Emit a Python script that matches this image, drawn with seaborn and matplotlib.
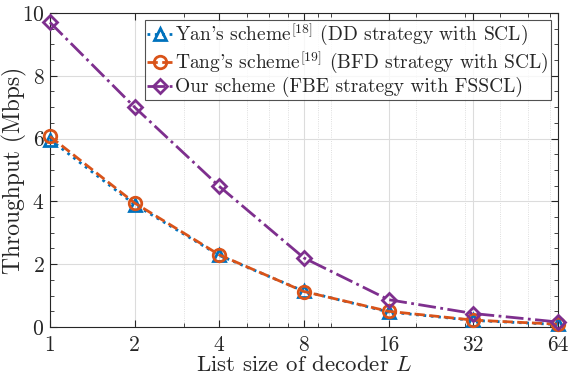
import matplotlib
matplotlib.use("Agg")
import matplotlib.pyplot as plt
import seaborn as sns
import pandas as pd
from matplotlib.ticker import FixedLocator, NullFormatter, MultipleLocator

# List sizes and throughput (Mbps) of the three decoding schemes
list_sizes = [1, 2, 4, 8, 16, 32, 64]
yan_tp = [5.97, 3.90, 2.28, 1.14, 0.48, 0.21, 0.08]
tang_tp = [6.07, 3.95, 2.30, 1.13, 0.50, 0.22, 0.09]
ours_tp = [9.70, 7.00, 4.48, 2.20, 0.87, 0.43, 0.16]

labels = [
    r"Yan's scheme$^{[18]}$ (DD strategy with SCL)",
    r"Tang's scheme$^{[19]}$ (BFD strategy with SCL)",
    r"Our scheme (FBE strategy with FSSCL)",
]
colors = ["#0072BD", "#D95319", "#7E2F8E"]
markers = ["^", "o", "D"]
styles = [":", "--", "-."]

df = pd.DataFrame({
    "L": list_sizes * 3,
    "tp": yan_tp + tang_tp + ours_tp,
    "scheme": [labels[0]] * 7 + [labels[1]] * 7 + [labels[2]] * 7,
})

sns.set_style("ticks")
plt.rcParams.update({
    "font.family": ["cmr10", "DejaVu Serif"],
    "mathtext.fontset": "cm",
    "axes.formatter.use_mathtext": True,
    "axes.unicode_minus": False,
})

fig = plt.figure(figsize=(5.7, 3.77), dpi=100)
ax = fig.add_axes([0.0877, 0.1326, 0.891, 0.833])

for lab, col, mk, ls in zip(labels, colors, markers, styles):
    sub = df[df["scheme"] == lab]
    ms = 7.5 if mk == "D" else 9
    sns.lineplot(data=sub, x="L", y="tp", ax=ax, color=col, linestyle=ls,
                 linewidth=2.0, marker=mk, markersize=ms,
                 markerfacecolor="none", markeredgecolor=col,
                 markeredgewidth=2.0, label=lab, clip_on=False, zorder=3)

ax.set_xscale("log", base=2)
ax.set_xlim(1, 64)
ax.set_ylim(0, 10)
ax.xaxis.set_major_locator(FixedLocator(list_sizes))
ax.set_xticklabels([str(v) for v in list_sizes])
ax.xaxis.set_minor_locator(FixedLocator([3, 5, 6, 7, 9, 10, 20, 30, 40, 50, 60]))
ax.xaxis.set_minor_formatter(NullFormatter())
ax.yaxis.set_major_locator(MultipleLocator(2))
ax.yaxis.set_minor_locator(MultipleLocator(0.5))

ax.grid(which="major", color="#dcdcdc", linewidth=0.8)
ax.grid(which="minor", axis="x", color="#d4d4d4", linewidth=0.6, linestyle=":")
ax.set_axisbelow(True)

for side in ["top", "right", "bottom", "left"]:
    ax.spines[side].set_visible(True)
    ax.spines[side].set_color("#262626")
    ax.spines[side].set_linewidth(0.8)
ax.tick_params(which="both", direction="in", top=True, right=True,
               colors="#262626", labelsize=15.5)
ax.tick_params(axis="y", pad=4)
ax.tick_params(axis="x", pad=6)
ax.tick_params(which="major", length=5)
ax.tick_params(which="minor", length=3)

ax.set_xlabel(r"List size of decoder $L$", fontsize=16.5, labelpad=0, color="#262626")
ax.set_ylabel("Throughput (Mbps)", fontsize=17, color="#262626")
ax.yaxis.set_label_coords(-0.046, 0.5)

leg = ax.legend(loc="upper right", fontsize=14.0, frameon=True, fancybox=False,
                edgecolor="#262626", handlelength=1.3, handletextpad=0.15,
                borderpad=0.12, labelspacing=0.08, borderaxespad=0.35)
leg.get_frame().set_linewidth(0.8)

fig.savefig("out.png", dpi=100)
